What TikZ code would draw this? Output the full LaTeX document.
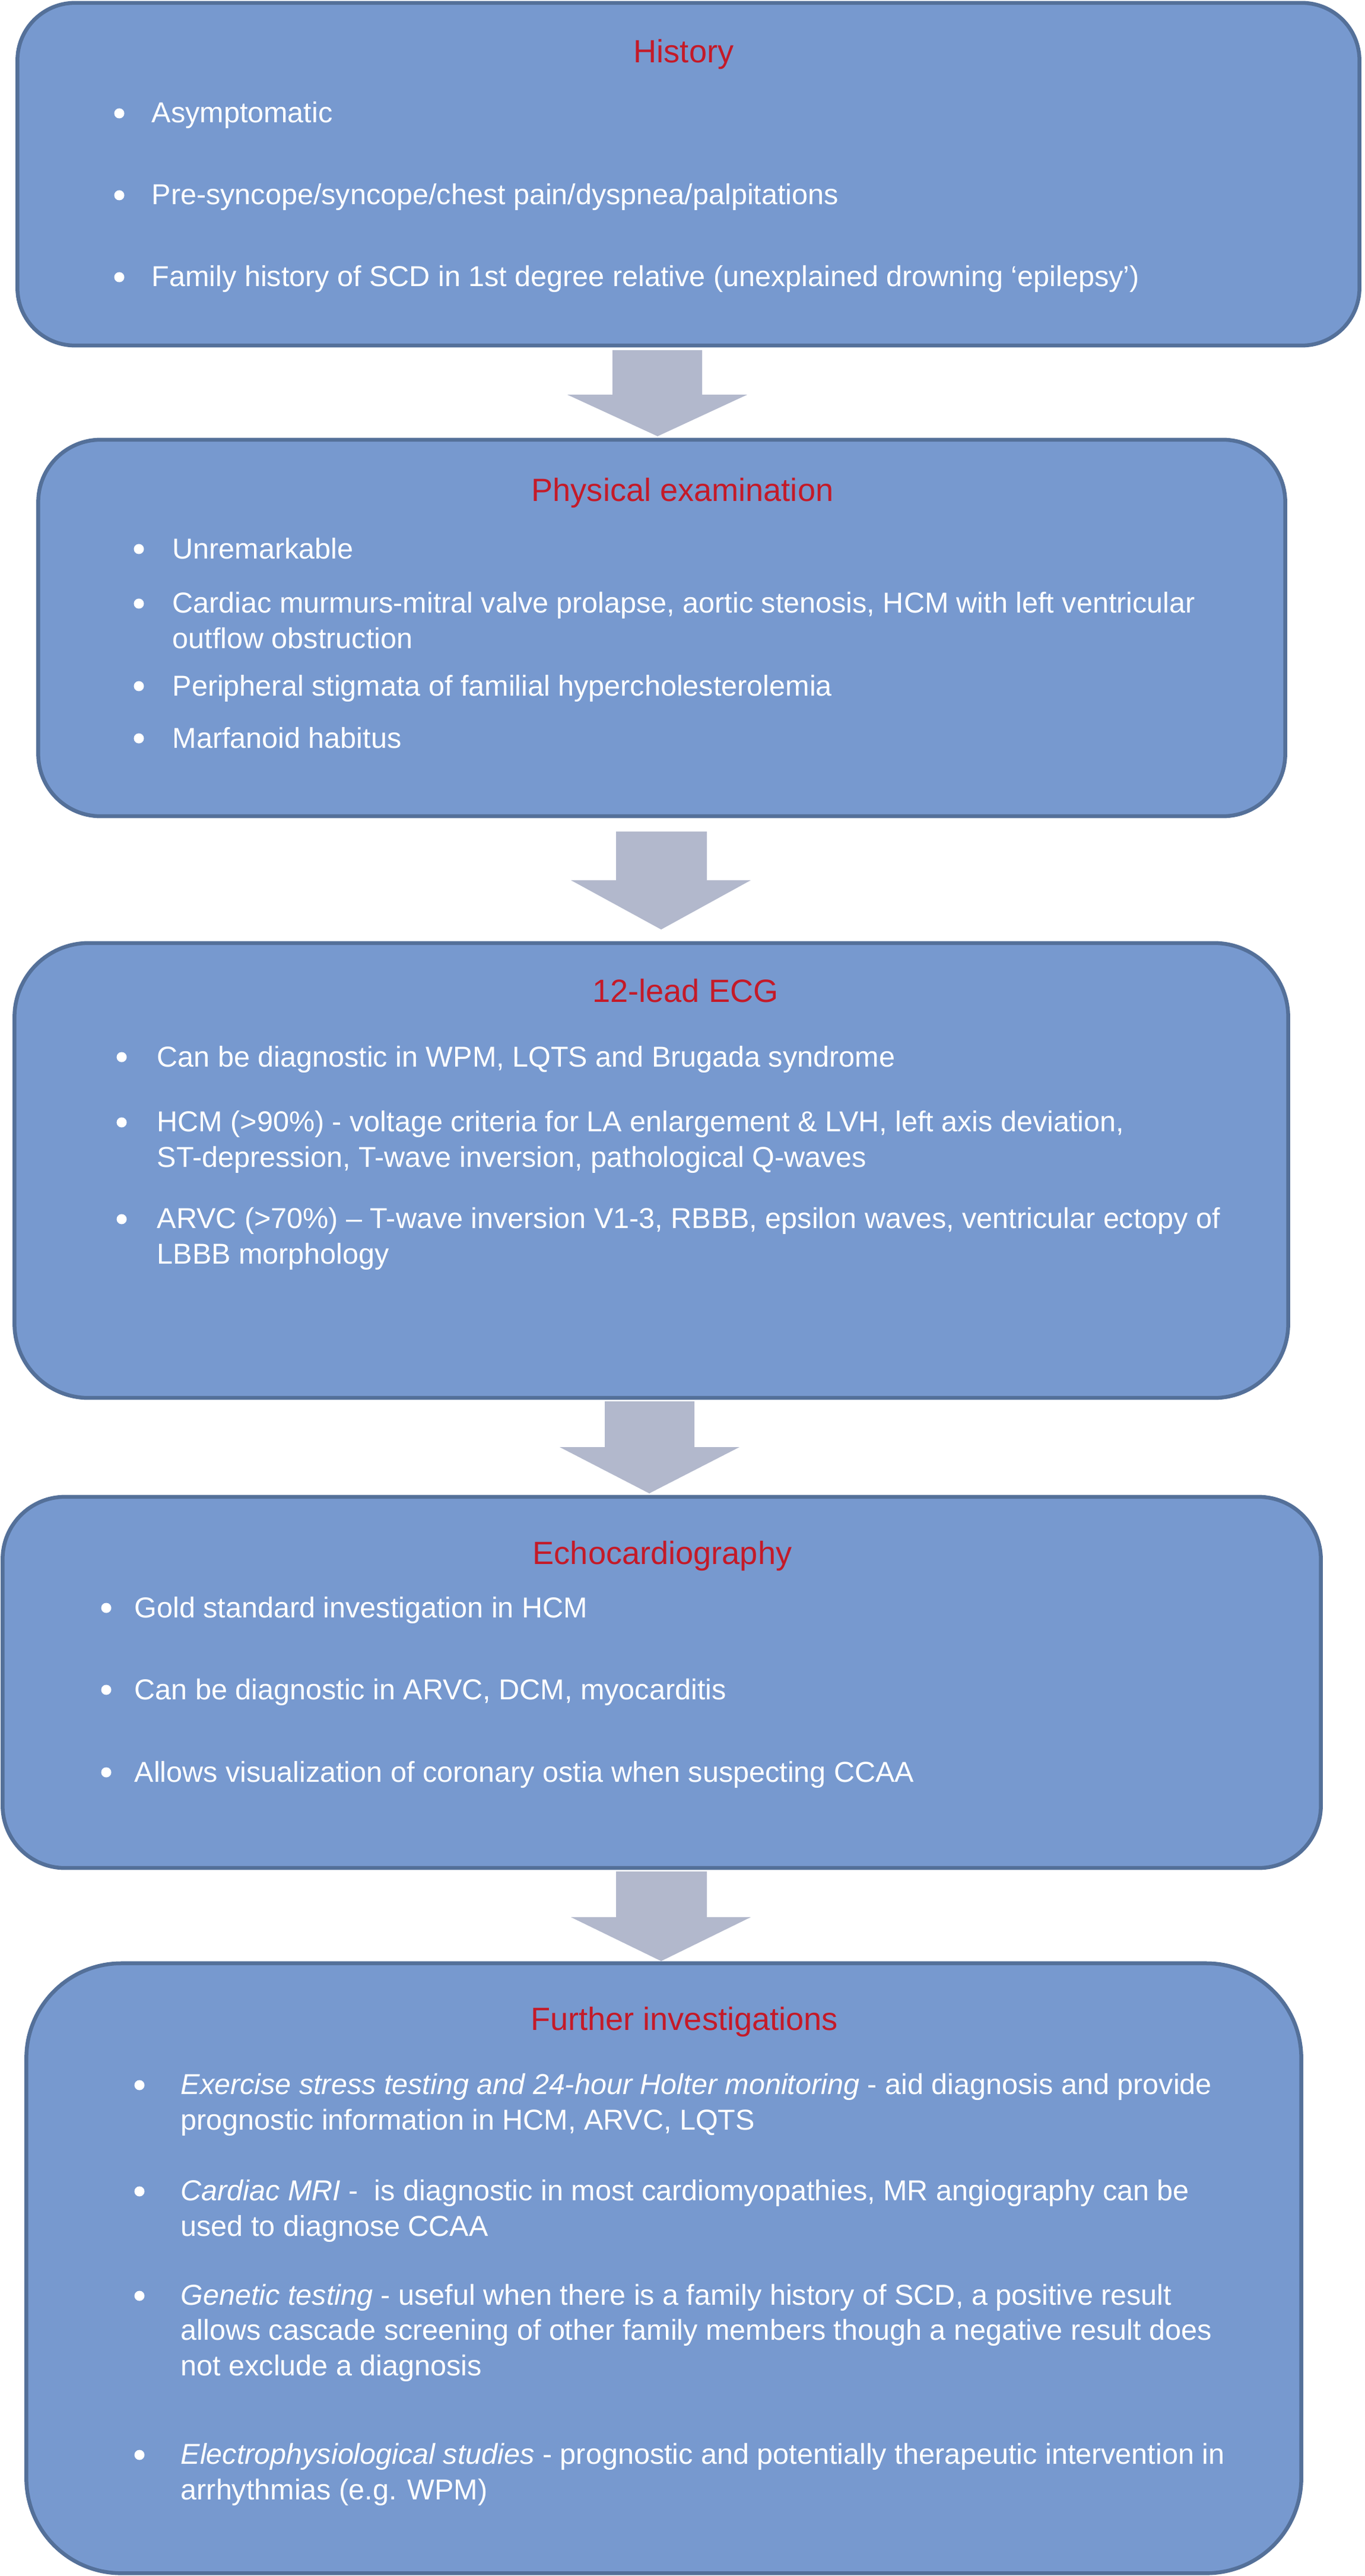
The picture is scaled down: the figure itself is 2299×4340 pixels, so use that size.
\documentclass[tikz,border=0pt]{standalone}
\usepackage{fontspec}
\setmainfont{Liberation Sans}
\definecolor{boxfill}{RGB}{119,153,207}
\definecolor{boxline}{RGB}{84,112,153}
\definecolor{arrowfill}{RGB}{178,184,204}
\definecolor{titlered}{RGB}{196,26,40}
\begin{document}
\begin{tikzpicture}[x=0.01cm,y=-0.01cm,
  box/.style={draw=boxline, fill=boxfill, line width=0.065cm, rectangle, inner sep=0pt},
  boxtitle/.style={text=titlered, font=\fontsize{15.4}{18.5}\selectfont, anchor=base, inner sep=0pt},
  item/.style={text=white, font=\fontsize{13.8}{16.8}\selectfont, anchor=base west, inner sep=0pt, align=left},
  bul/.style={circle, fill=white, draw=none, inner sep=0pt, minimum size=0.17cm, yshift=0.16cm},
  blockarrow/.style={fill=arrowfill, draw=none}]
\useasboundingbox (0,0) rectangle (2299,4340);

% boxes
\node[box, minimum width=22.60cm, minimum height=5.77cm, rounded corners=0.97cm] (b1) at (1160,293.5) {};
\node[box, minimum width=21.00cm, minimum height=6.34cm, rounded corners=1.05cm] (b2) at (1115,1058) {};
\node[box, minimum width=21.45cm, minimum height=7.66cm, rounded corners=1.25cm] (b3) at (1097.5,1972) {};
\node[box, minimum width=22.20cm, minimum height=6.25cm, rounded corners=1.05cm] (b4) at (1115,2834.5) {};
\node[box, minimum width=21.47cm, minimum height=10.27cm, rounded corners=1.6cm] (b5) at (1118.5,3821.5) {};

% block arrows
\fill[blockarrow] (1032,590) -- (1183,590) -- (1183,665) -- (1259,665) -- (1108,735) -- (956,665) -- (1032,665) -- cycle;
\fill[blockarrow] (1038,1401) -- (1191,1401) -- (1191,1483) -- (1265,1483) -- (1114,1566) -- (962,1483) -- (1038,1483) -- cycle;
\fill[blockarrow] (1019,2361) -- (1170,2361) -- (1170,2438) -- (1246,2438) -- (1094,2516) -- (943,2438) -- (1019,2438) -- cycle;
\fill[blockarrow] (1038,3153) -- (1191,3153) -- (1191,3230) -- (1265,3230) -- (1114,3304) -- (962,3230) -- (1038,3230) -- cycle;

% Box 1: History
\node[boxtitle] (t1) at (1152,106) {History};
\node[bul] (b1p1) at (201,207) {};
\node[item] (b1i1) at (255,207) {Asymptomatic};
\node[bul] (b1p2) at (201,345) {};
\node[item] (b1i2) at (255,345) {Pre-syncope/syncope/chest pain/dyspnea/palpitations};
\node[bul] (b1p3) at (201,483) {};
\node[item] (b1i3) at (255,483) {Family history of SCD in 1st degree relative (unexplained drowning ‘epilepsy’)};

% Box 2: Physical examination (multi-line items are placed by their last baseline)
\node[boxtitle] (t2) at (1150,845) {Physical examination};
\node[bul] (b2p1) at (234,941) {};
\node[item] (b2i1) at (290,941) {Unremarkable};
\node[bul] (b2p2) at (234,1033) {};
\node[item] (b2i2) at (290,1092) {Cardiac murmurs-mitral valve prolapse, aortic stenosis, HCM with left ventricular\\outflow obstruction};
\node[bul] (b2p3) at (234,1172) {};
\node[item] (b2i3) at (290,1172) {Peripheral stigmata of familial hypercholesterolemia};
\node[bul] (b2p4) at (234,1260) {};
\node[item] (b2i4) at (290,1260) {Marfanoid habitus};

% Box 3: 12-lead ECG
\node[boxtitle] (t3) at (1155,1688) {12-lead ECG};
\node[bul] (b3p1) at (205,1797) {};
\node[item] (b3i1) at (264,1797) {Can be diagnostic in WPM, LQTS and Brugada syndrome};
\node[bul] (b3p2) at (205,1907) {};
\node[item] (b3i2) at (264,1966) {HCM (>90\%) - voltage criteria for LA enlargement \& LVH, left axis deviation,\\ST-depression, T-wave inversion, pathological Q-waves};
\node[bul] (b3p3) at (205,2070) {};
\node[item] (b3i3) at (264,2129) {ARVC (>70\%) – T-wave inversion V1-3, RBBB, epsilon waves, ventricular ectopy of\\LBBB morphology};

% Box 4: Echocardiography
\node[boxtitle] (t4) at (1116,2635) {Echocardiography};
\node[bul] (b4p1) at (179,2725) {};
\node[item] (b4i1) at (226,2725) {Gold standard investigation in HCM};
\node[bul] (b4p2) at (179,2863) {};
\node[item] (b4i2) at (226,2863) {Can be diagnostic in ARVC, DCM, myocarditis};
\node[bul] (b4p3) at (179,3002) {};
\node[item] (b4i3) at (226,3002) {Allows visualization of coronary ostia when suspecting CCAA};

% Box 5: Further investigations
\node[boxtitle] (t5) at (1153,3420) {Further investigations};
\node[bul] (b5p1) at (235,3529) {};
\node[item] (b5i1) at (304,3588) {\textit{Exercise stress testing and 24-hour Holter monitoring} - aid diagnosis and provide\\prognostic information in HCM, ARVC, LQTS};
\node[bul] (b5p2) at (235,3708) {};
\node[item] (b5i2) at (304,3767) {\textit{Cardiac MRI} - \ is diagnostic in most cardiomyopathies, MR angiography can be\\used to diagnose CCAA};
\node[bul] (b5p3) at (235,3884) {};
\node[item] (b5i3) at (304,4002) {\textit{Genetic testing} - useful when there is a family history of SCD, a positive result\\allows cascade screening of other family members though a negative result does\\not exclude a diagnosis};
\node[bul] (b5p4) at (235,4152) {};
\node[item] (b5i4) at (304,4211) {\textit{Electrophysiological studies} - prognostic and potentially therapeutic intervention in\\arrhythmias (e.g. WPM)};
\end{tikzpicture}
\end{document}
